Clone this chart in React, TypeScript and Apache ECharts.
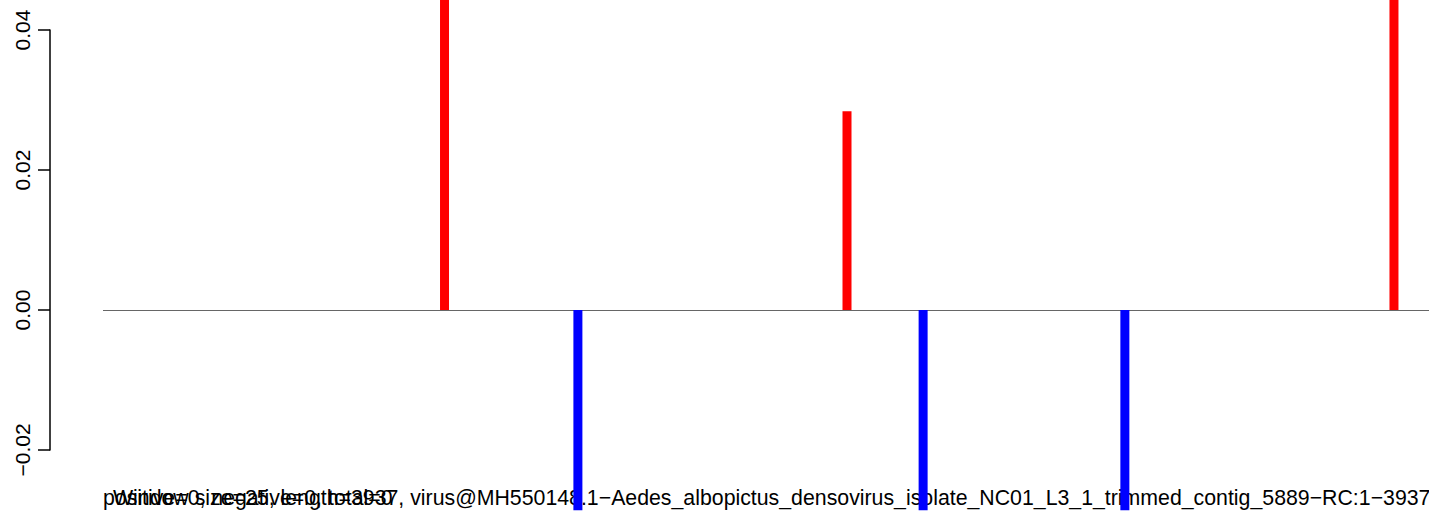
import React, { useEffect, useRef } from "react";
import * as echarts from "echarts";

// Positions along the 3937-nt contig and window values
const positivePositions = [1014, 2209, 3833];
const positiveValues = [0.06, 0.0284, 0.06];
const negativePositions = [1410, 2435, 3034];
const negativeValues = [-0.0286, -0.0286, -0.0286];
const yTicks = [-0.02, 0.0, 0.02, 0.04];
const seqLength = 3937;

const titleText =
  "Window size=25, length=3937, virus@MH550148.1\u2212Aedes_albopictus_densovirus_isolate_NC01_L3_1_trimmed_contig_5889\u2212RC:1\u22123937";
const countText = "positive=0, negative=0, total=0";

const FONT = "Liberation Sans, Arial, Helvetica, sans-serif";

export default function App() {
  const ref = useRef<HTMLDivElement>(null);
  useEffect(() => {
    if (!ref.current) return;
    const chart = echarts.init(ref.current, undefined, { renderer: "svg" });
    const barData = [
      ...positivePositions.map((p, i) => ({ value: [p, positiveValues[i]], itemStyle: { color: "#ff0000" } })),
      ...negativePositions.map((p, i) => ({ value: [p, negativeValues[i]], itemStyle: { color: "#0000ff" } })),
    ];
    chart.setOption({
      animation: false,
      backgroundColor: "#ffffff",
      grid: [
        { left: 103, right: 0, top: 30, bottom: 64 },
        { left: 50, width: 1, top: 30, bottom: 64 },
      ],
      xAxis: [
        { type: "value", gridIndex: 0, min: 0, max: seqLength, show: false },
        { type: "value", gridIndex: 1, min: 0, max: 1, show: false },
      ],
      yAxis: [
        { type: "value", gridIndex: 0, min: yTicks[0], max: yTicks[yTicks.length - 1], interval: 0.02, show: false },
        {
          type: "value",
          gridIndex: 1,
          min: yTicks[0],
          max: yTicks[yTicks.length - 1],
          interval: 0.02,
          axisLine: { show: true, lineStyle: { color: "#000", width: 1.5 } },
          axisTick: { show: true, length: 12, lineStyle: { color: "#000", width: 1.5 } },
          splitLine: { show: false },
          axisLabel: {
            rotate: 90,
            margin: 17,
            color: "#000",
            fontFamily: FONT,
            fontSize: 21,
            formatter: (v: number) => (v < 0 ? "\u2212" : "") + Math.abs(v).toFixed(2),
          },
        },
      ],
      series: [
        {
          type: "bar",
          xAxisIndex: 0,
          yAxisIndex: 0,
          barWidth: 9,
          clip: false,
          z: 5,
          data: barData,
          markLine: {
            silent: true,
            symbol: "none",
            label: { show: false },
            lineStyle: { color: "#666666", width: 1, type: "solid" },
            data: [{ yAxis: 0 }],
          },
        },
      ],
      graphic: [
        {
          type: "text",
          left: 113,
          top: 487,
          z: 1,
          style: { text: titleText, font: `21.3px ${FONT}`, fill: "#000" },
        },
        {
          type: "text",
          left: 103,
          top: 487,
          z: 1,
          style: { text: countText, font: `21.3px ${FONT}`, fill: "#000" },
        },
      ],
    });
    return () => chart.dispose();
  }, []);
  return (
    <div
      ref={ref}
      style={{ position: "absolute", left: 0, top: 0, width: 1429, height: 514 }}
    />
  );
}
